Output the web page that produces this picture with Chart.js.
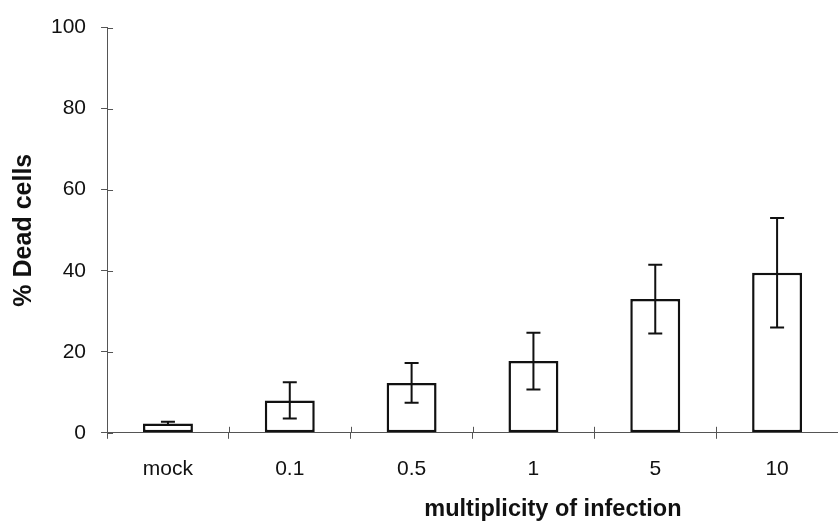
<!DOCTYPE html>
<html>
<head>
<meta charset="utf-8">
<script src="https://cdn.jsdelivr.net/npm/chart.js@4"></script>
<style>
  html, body { margin: 0; padding: 0; background: #fff; overflow: hidden; }
  #wrap { width: 838px; height: 529px; }
</style>
</head>
<body>
<div id="wrap"><canvas id="deadCellsChart"></canvas></div>
<script>
// Datos
const categories = ["mock", "0.1", "0.5", "1", "5", "10"];
const deadCells = [2.3, 8, 12.3, 17.7, 33, 39.5];
const deadCellsError = [0.4, 4.5, 4.9, 7, 8.5, 13.5];
const yTicks = [0, 20, 40, 60, 80, 100];

const ink = "#111";
const axisColor = "#555";
const fontFamily = "'Liberation Sans', Arial, sans-serif";

// Barras de error + marcas que cruzan los ejes + título del eje X
const extrasPlugin = {
  id: "extras",
  afterDatasetsDraw(chart) {
    const ctx = chart.ctx;
    const yScale = chart.scales.y;
    const xScale = chart.scales.x;
    const meta = chart.getDatasetMeta(0);

    ctx.save();
    ctx.strokeStyle = ink;
    ctx.lineWidth = 2;
    meta.data.forEach((bar, i) => {
      const top = yScale.getPixelForValue(deadCells[i] + deadCellsError[i]);
      const bottom = yScale.getPixelForValue(deadCells[i] - deadCellsError[i]);
      const cap = 7;
      ctx.beginPath();
      ctx.moveTo(bar.x, top);
      ctx.lineTo(bar.x, bottom);
      ctx.moveTo(bar.x - cap, top);
      ctx.lineTo(bar.x + cap, top);
      ctx.moveTo(bar.x - cap, bottom);
      ctx.lineTo(bar.x + cap, bottom);
      ctx.stroke();
    });

    // marcas hacia dentro del área
    ctx.strokeStyle = axisColor;
    ctx.lineWidth = 1;
    const left = chart.chartArea.left;
    const base = chart.chartArea.bottom;
    yTicks.forEach(v => {
      const y = Math.round(yScale.getPixelForValue(v)) + 0.5;
      ctx.beginPath();
      ctx.moveTo(left, y);
      ctx.lineTo(left + 6, y);
      ctx.stroke();
    });
    for (let i = 1; i < categories.length; i++) {
      const x = Math.round((xScale.getPixelForValue(i - 1) + xScale.getPixelForValue(i)) / 2) + 0.5;
      ctx.beginPath();
      ctx.moveTo(x, base);
      ctx.lineTo(x, base - 6);
      ctx.stroke();
    }

    // título del eje X (desplazado a la derecha como en la figura)
    ctx.fillStyle = ink;
    ctx.font = "bold 23.5px " + fontFamily;
    ctx.textAlign = "center";
    ctx.textBaseline = "middle";
    const area = chart.chartArea;
    ctx.fillText("multiplicity of infection", area.left + 0.61 * (area.right - area.left), 510);
    ctx.restore();
  }
};

new Chart(document.getElementById("deadCellsChart"), {
  type: "bar",
  data: {
    labels: categories,
    datasets: [{
      data: deadCells,
      backgroundColor: "#fff",
      borderColor: ink,
      borderWidth: 2.5,
      borderSkipped: false,
      barPercentage: 0.82,
      categoryPercentage: 0.5
    }]
  },
  options: {
    responsive: true,
    maintainAspectRatio: false,
    animation: false,
    layout: { padding: { left: 9, right: 0, top: 14, bottom: 29 } },
    plugins: { legend: { display: false }, tooltip: { enabled: false } },
    scales: {
      x: {
        grid: {
          offset: true,
          drawOnChartArea: false,
          drawTicks: true,
          tickLength: 6,
          color: axisColor
        },
        border: { color: axisColor, width: 1, dash: [8, 3] },
        ticks: {
          color: ink,
          padding: 18,
          font: { family: fontFamily, size: 21 }
        }
      },
      y: {
        min: 0,
        max: 100,
        afterBuildTicks(scale) {
          scale.ticks = yTicks.map(v => ({ value: v }));
        },
        grid: {
          drawOnChartArea: false,
          drawTicks: true,
          tickLength: 6,
          color: axisColor
        },
        border: { color: axisColor, width: 1 },
        ticks: {
          color: ink,
          padding: 15,
          font: { family: fontFamily, size: 21 }
        },
        title: {
          display: true,
          text: "% Dead cells",
          color: ink,
          padding: { top: 0, bottom: -3 },
          font: { family: fontFamily, size: 25, weight: "bold" }
        }
      }
    }
  },
  plugins: [extrasPlugin]
});
</script>
</body>
</html>
